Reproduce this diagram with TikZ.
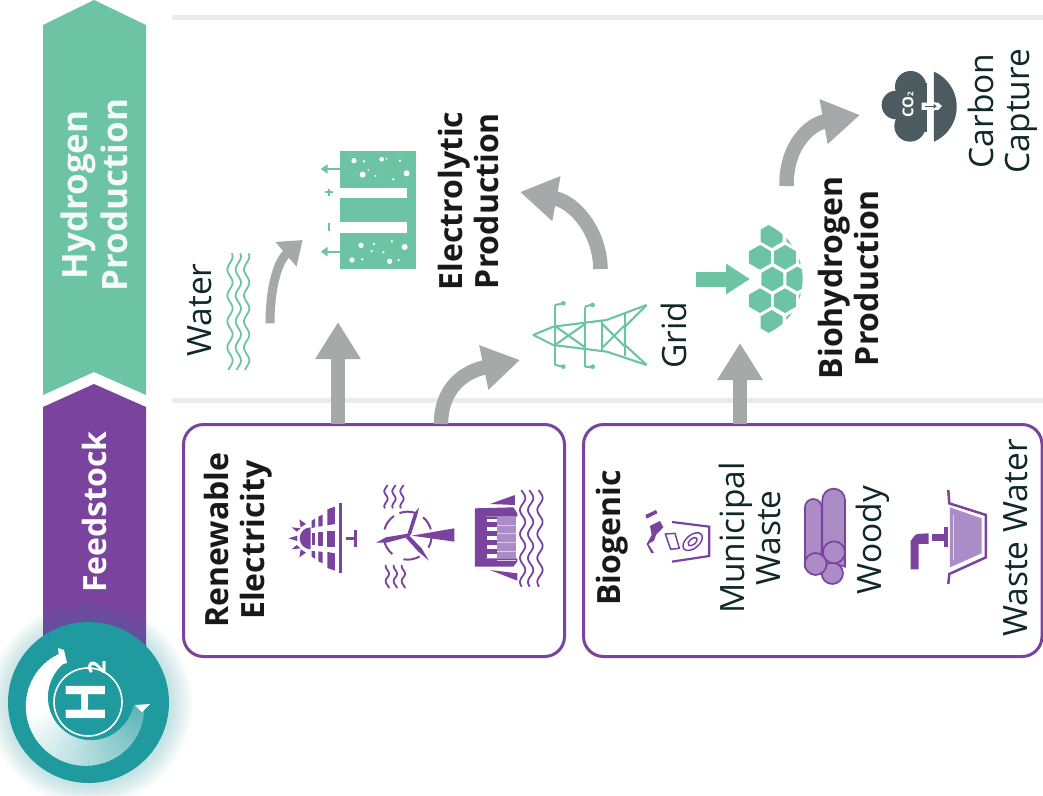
\documentclass[tikz,border=0pt]{standalone}
\usepackage{fontspec}
\setmainfont{Open Sans}
\usetikzlibrary{arrows.meta}
\definecolor{purp}{HTML}{7A449E}
\definecolor{lpurp}{HTML}{AB8CC6}
\definecolor{mint}{HTML}{6CC4A4}
\definecolor{teal1}{HTML}{1F9A9E}
\definecolor{ink}{HTML}{10282A}
\definecolor{arrowgray}{HTML}{A7A8AA}
\definecolor{rulegray}{HTML}{EBEBEB}
\definecolor{slate}{HTML}{4C5B60}
\newcommand{\wavyv}[6]{\draw[#6] plot[domain=#2:#3,samples=60,variable=\t] ({#1+#4*sin((\t)/#5*360)},\t);}
\newcommand{\hexa}[2]{\fill[mint] (#1,#2-37)--(#1+33,#2-18)--(#1+33,#2+18)--(#1,#2+37)--(#1-33,#2+18)--(#1-33,#2-18)--cycle;}
\tikzset{
  lbl/.style={rotate=90,align=center,inner sep=0pt,text=ink,font=\fontsize{33.5}{36}\selectfont},
  blbl/.style={rotate=90,align=center,inner sep=0pt,text=black!90,font=\fontsize{32}{36}\bfseries\selectfont},
  bandlbl/.style={rotate=90,align=center,inner sep=0pt,font=\fontsize{32}{40}\bfseries\selectfont},
  framebox/.style={draw=purp,line width=3pt,fill=white,rounded corners=20pt},
  rulel/.style={rulegray,line width=5pt},
  bigarrow/.style={arrowgray,line width=14.5pt,-{Triangle[length=37pt,width=43pt]}},
  smallarrow/.style={arrowgray,line width=9pt,-{Triangle[length=22pt,width=31pt]}},
  micon/.style={mint,line width=1.8pt},
  picon/.style={purp,line width=1.8pt},
}
\begin{document}
\begin{tikzpicture}[x=1pt,y=-1pt]
\useasboundingbox (0,0) rectangle (1043,795);
\fill[white] (0,0) rectangle (1043,795);
% rules
\draw[rulel] (172,17) -- (1043,17);
\draw[rulel] (172,400) -- (1043,400);
% bands
\fill[mint] (43,25)--(94,0)--(146,25)--(146,395)--(94,372)--(43,395)--cycle;
\fill[purp] (43,407)--(94,384)--(146,407)--(146,680)--(43,680)--cycle;
\node[bandlbl,text=white!92!mint,font=\fontsize{35}{40}\bfseries\selectfont] (hp) at (94,195) {Hydrogen\\Production};
\node[bandlbl,text=white] (fs) at (94,512) {Feedstock};
% boxes
\draw[framebox] (183.5,424.5) rectangle (564.5,656.5);
\draw[framebox] (583.5,424.5) rectangle (1042,656.5);
\coordinate (b1a) at (338,424);
\coordinate (b1b) at (441,424);
\coordinate (b2a) at (740,424);
% logo
\foreach \r in {82,84,...,102}{
  \fill[teal1,opacity=.025] (90,704) circle[radius=\r];
}
\node[circle,fill=teal1,minimum size=161pt,inner sep=0pt] (logo) at (88.5,702.5) {};
\foreach \a in {118,122,...,352}{
  \pgfmathsetmacro{\w}{10+17*sin((\a-118)*0.7595)}
  \pgfmathsetmacro{\m}{min(100,max(0,100-(\a-190)*0.45))}
  \pgfmathsetmacro{\xa}{88+51*cos(\a)}
  \pgfmathsetmacro{\ya}{702-51*sin(\a)}
  \pgfmathsetmacro{\xb}{88+51*cos(\a+5)}
  \pgfmathsetmacro{\yb}{702-51*sin(\a+5)}
  \draw[line width=\w pt,white!\m!teal1] (\xa,\ya) -- (\xb,\yb);
}
\fill[white] (58,648)--(64,650)--(67,663)--(60,665)--cycle;
\fill[white] (135,705)--(150,704)--(142,712)--cycle;
\draw[white,line width=1.6pt] (88,702) circle[radius=34];
\node[rotate=90,inner sep=0pt,text=white,font=\fontsize{55}{55}\bfseries\selectfont] (h2) at (86,692) {H\hspace{7pt}{\fontsize{24}{24}\selectfont 2}};
% labels
\node[blbl] (re) at (238,540) {Renewable\\Electricity};
\node[blbl] (bg) at (612,538) {Biogenic};
\node[lbl] (mw) at (750,538) {Municipal\\Waste};
\node[lbl] (wd) at (873,540) {Woody};
\node[lbl] (ww) at (1016,538) {Waste Water};
\node[lbl] (wt) at (200,310) {Water};
\node[lbl] (gr) at (674,335) {Grid};
\node[lbl] (cc) at (1003,111) {Carbon\\Capture};
\node[blbl] (ep) at (468,201) {Electrolytic\\Production};
\node[blbl] (bp) at (848,278) {Biohydrogen\\Production};
% solar
\begin{scope}[shift={(280,420)},x=.3333pt,y=-.3333pt]
\coordinate (solar) at (100,355);
\fill[purp] (92,322) arc[start angle=-90,end angle=-270,radius=33] -- cycle;
\foreach \a/\b/\c/\d/\e/\f in {25/355/52/347/52/363, 35/322/62/325/50/335, 35/388/62/385/50/375, 58/298/78/312/62/322, 58/412/78/398/62/388}{
  \fill[purp] (\a,\b)--(\c,\d)--(\e,\f)--cycle;
}
\fill[purp] (178,250) rectangle (187,460);
\fill[purp] (142,268)--(165,260)--(165,312)--(142,316)--cycle;
\fill[purp] (142,332) rectangle (165,380);
\fill[purp] (142,396)--(165,400)--(165,452)--(142,444)--cycle;
\fill[purp] (115,290)--(128,284)--(128,318)--(115,320)--cycle;
\fill[purp] (115,336) rectangle (128,378);
\fill[purp] (115,394)--(128,396)--(128,430)--(115,424)--cycle;
\fill[purp] (95,302)--(105,296)--(105,322)--(95,324)--cycle;
\fill[purp] (95,340) rectangle (105,376);
\fill[purp] (95,392)--(105,394)--(105,416)--(95,410)--cycle;
\fill[purp] (198,350) rectangle (224,360);
\fill[purp] (222,330) rectangle (232,382);
\end{scope}
% wind
\begin{scope}[shift={(280,420)},x=.3333pt,y=-.3333pt]
\coordinate (wind) at (383,347);
\fill[purp] (395,347)--(523,325)--(523,365)--cycle;
\fill[purp] (383,340)--(402,280)--(417,263)--(412,285)--(392,346)--cycle;
\fill[purp] (380,352)--(320,368)--(288,368)--(318,352)--(378,342)--cycle;
\fill[purp] (388,347)--(425,385)--(447,422)--(415,395)--(378,354)--cycle;
\fill[purp] (383,347) circle[radius=7];
\draw[purp,line width=2pt] (383,347) ++(100:72) arc[start angle=100,end angle=60,radius=72];
\draw[purp,line width=2pt] (383,347) ++(30:72) arc[start angle=30,end angle=5,radius=72];
\draw[purp,line width=2pt] (383,347) ++(-15:72) arc[start angle=-15,end angle=-50,radius=72];
\draw[purp,line width=2pt] (383,347) ++(-70:72) arc[start angle=-70,end angle=-110,radius=72];
\draw[purp,line width=2pt] (383,347) ++(-125:72) arc[start angle=-125,end angle=-165,radius=72];
\draw[purp,line width=2pt] (383,347) ++(170:72) arc[start angle=170,end angle=130,radius=72];
\wavyv{318}{195}{265}{5}{45}{picon}
\wavyv{342}{195}{265}{5}{45}{picon}
\wavyv{366}{195}{265}{5}{45}{picon}
\wavyv{322}{435}{505}{5}{45}{picon}
\wavyv{346}{435}{505}{5}{45}{picon}
\wavyv{370}{435}{505}{5}{45}{picon}
\end{scope}
% dam
\begin{scope}[shift={(280,420)},x=.3333pt,y=-.3333pt]
\coordinate (dam) at (650,350);
\fill[purp] (585,265)--(700,262)--(712,280)--(712,290)--(618,290)--(618,415)--(712,415)--(712,425)--(700,440)--(585,440)--cycle;
\fill[lpurp] (650,290) rectangle (708,415);
\fill[purp] (618,290) rectangle (650,415);
\foreach \y in {296,322,348,375,402}{
  \fill[white] (622,\y) rectangle (650,\y+11);
  \fill[white!55!lpurp] (650,\y+18) rectangle (708,\y+21);
}
\fill[purp] (630,252)--(705,225)--(705,255)--cycle;
\fill[purp] (630,450)--(712,482)--(712,460)--cycle;
\wavyv{728}{210}{500}{8}{72}{picon}
\wavyv{752}{210}{500}{8}{72}{picon}
\wavyv{780}{210}{500}{8}{72}{picon}
\end{scope}
% municipal waste
\begin{scope}[shift={(580,420)},x=.3333pt,y=-.3333pt]
\coordinate (bin) at (300,350);
\draw[purp,line width=2.2pt] (276,306)--(388,320)--(388,408)--(276,425);
\fill[purp] (196,285)--(228,270)--(232,280)--(200,296)--cycle;
\fill[purp] (210,318)--(240,303)--(250,322)--(228,345)--(222,362)--(205,372)--(222,398)--(214,400)--(200,372)--(215,345)--cycle;
\draw[purp,line width=1.5pt,line join=round] (256,342)--(285,340)--(298,385)--(272,388)--cycle;
\draw[purp,line width=1.5pt,rotate around={40:(338,365)}] (338,365) ellipse[x radius=34,y radius=20];
\draw[purp,line width=1.5pt,rotate around={40:(338,365)}] (338,365) ellipse[x radius=16,y radius=9];
\end{scope}
% logs
\begin{scope}[shift={(580,420)},x=.3333pt,y=-.3333pt,
  log/.style={draw=purp,fill=lpurp,line width=1.7pt}]
\coordinate (logs) at (735,350);
\draw[log] (675,440)--(675,262) arc[start angle=180,end angle=360,radius=25] --(725,440)--cycle;
\draw[log] (727,420)--(727,240) arc[start angle=180,end angle=360,radius=34] --(795,440)--cycle;
\draw[log] (757,460) circle[radius=32];
\draw[log] (707,432) circle[radius=33];
\draw[log] (762,397) circle[radius=33];
\end{scope}
% basin
\begin{scope}[shift={(580,420)},x=.3333pt,y=-.3333pt]
\coordinate (basin) at (1160,350);
\fill[lpurp] (1110,262)--(1205,295)--(1205,400)--(1110,442)--cycle;
\draw[white!60!lpurp,line width=1pt] (1122,285)--(1122,420);
\draw[purp,line width=2.5pt] (1105,210)--(1108,250)--(1218,285)--(1218,412)--(1108,462)--(1105,492);
\fill[purp] (992,448)--(992,360) to[out=-90,in=180] (1012,342)--(1046,340)--(1046,372)--(1016,372)--(1016,448)--cycle;
\fill[purp] (1055,342) rectangle (1095,362);
\fill[purp] (1093,322) rectangle (1104,382);
\end{scope}
% electrolyser
\begin{scope}[shift={(180,120)},x=.3333pt,y=-.3333pt]
\coordinate (els) at (590,270);
\fill[mint] (480,92) rectangle (707,447);
\fill[white] (478,203) rectangle (680,233);
\fill[white] (478,305) rectangle (680,338);
\foreach \x/\y/\r in {522/122/8,552/124/4,605/118/7,620/116/3,660/122/4,565/150/3,548/164/9,586/168/3,680/160/9,640/178/4,
  543/376/8,582/372/4,636/364/4,674/381/9,575/393/4,610/397/4,516/420/8,547/418/4,629/424/8,656/420/4}{
  \fill[white] (\x,\y) circle[radius=\r];
}
\draw[mint,line width=2pt,-{Triangle[length=7pt,width=9pt]}] (480,147) -- (422,147);
\draw[mint,line width=2pt,-{Triangle[length=7pt,width=9pt]}] (480,395) -- (422,395);
\draw[mint,line width=2pt] (436,217) -- (458,217) (447,206) -- (447,228);
\draw[mint,line width=2.2pt] (447,308) -- (447,332);
\wavyv{150}{400}{750}{8}{78}{micon}
\wavyv{175}{400}{750}{8}{78}{micon}
\wavyv{200}{400}{750}{8}{78}{micon}
\coordinate (wtrs) at (270,610);
\coordinate (wtrt) at (368,360);
\end{scope}
% tower
\begin{scope}[shift={(510,170)},x=.3333pt,y=-.3333pt,tw/.style={mint,line width=2.1pt,line join=round}]
\coordinate (tower) at (240,495);
\draw[tw] (410,405)--(290,450)--(130,470)--(70,495)--(130,525)--(290,545)--(410,585);
\draw[tw] (345,432)--(345,558) (275,452)--(275,543) (225,410)--(225,590) (135,405)--(135,585);
\draw[tw] (410,405)--(345,470)--(345,525)--(410,585);
\draw[tw] (345,465)--(275,535) (345,530)--(275,460);
\draw[tw] (225,462)--(135,525) (225,532)--(135,468);
\draw[tw] (225,410)--(250,403) (135,405)--(162,400) (225,590)--(250,592) (135,585)--(162,590);
\foreach \x/\y in {160/400,248/405,160/590,248/590}{\fill[mint] (\x,\y) circle[radius=7];}
\end{scope}
% hexagons
\begin{scope}[shift={(510,170)},x=.3333pt,y=-.3333pt]
\coordinate (hex) at (790,327);
\begin{scope}
\clip (699,327) circle[radius=179];
\foreach \x/\y in {785/197,750/262,825/262,787/327,862/327,750/392,825/392,785/457,862/197,900/262,900/392,862/457}{\hexa{\x}{\y}}
\end{scope}
\end{scope}
% CO2
\begin{scope}[shift={(770,20)},x=.3333pt,y=-.3333pt]
\coordinate (co2) at (440,260);
\fill[slate] (422,200) circle[radius=47];
\fill[slate] (378,255) circle[radius=43];
\fill[slate] (420,318) circle[radius=47];
\fill[slate] (400,190) rectangle (470,335);
\fill[slate] (492,155) arc[start angle=-66,end angle=66,radius=115] -- (492,272)--(517,258)--(492,245)--cycle;
\fill[white] (455,248)--(505,248)--(515,258)--(505,270)--(455,270)--cycle;
\draw[slate,line width=1pt,-{Triangle[length=3pt,width=4.5pt]}] (465,259) -- (500,259);
\node[rotate=90,inner sep=0pt,text=white,font=\fontsize{15}{15}\bfseries\selectfont] (co2t) at (414,255) {CO{\fontsize{8}{8}\selectfont 2}};
\end{scope}
% connectors
\coordinate (t1) at (338,322);
\coordinate (t2) at (520,360);
\coordinate (t3) at (520,192);
\coordinate (t4) at (860,115);
\coordinate (t5) at (740,343);
\coordinate (s3) at (600.5,269);
\coordinate (s4) at (786.5,186);
\coordinate (gs) at (696,279);
\coordinate (gt) at (750,279);
\draw[bigarrow] (b1a) -- (t1);
\draw[bigarrow] (b2a) -- (t5);
\draw[bigarrow] (b1b) .. controls (441,390) and (462,372) .. (t2);
\draw[bigarrow] (s3) .. controls (600,232) and (575,202) .. (t3);
\draw[bigarrow] (s4) .. controls (786,145) and (810,124) .. (t4);
\draw[smallarrow] (wtrs) .. controls (270,290) and (277,262) .. (wtrt);
\draw[mint,line width=15pt,-{Triangle[length=24pt,width=29pt]}] (gs) -- (gt);
\end{tikzpicture}
\end{document}
